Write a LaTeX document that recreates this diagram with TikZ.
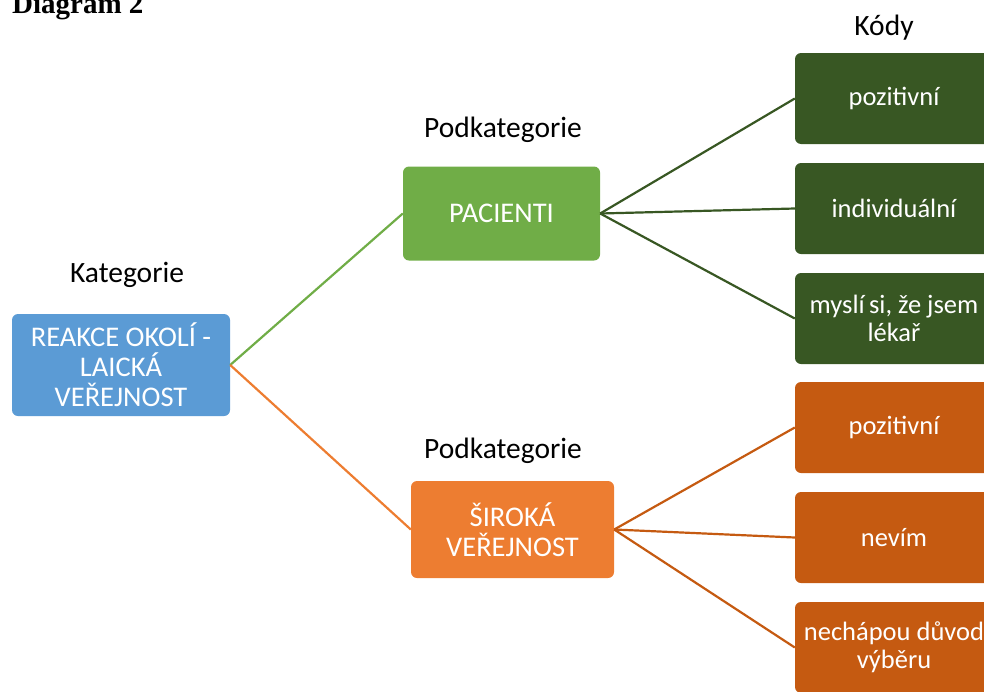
\documentclass[tikz,border=0pt]{standalone}
\usepackage{fontspec}
\setmainfont{Carlito}
\newfontfamily\titlefont{Liberation Serif}
\definecolor{catblue}{HTML}{5B9BD5}
\definecolor{subgreen}{HTML}{70AD47}
\definecolor{suborange}{HTML}{ED7D31}
\definecolor{codegreen}{HTML}{385723}
\definecolor{codeorange}{HTML}{C55A11}
\begin{document}
\begin{tikzpicture}[x=1pt,y=-1pt,
  box/.style={rounded corners=6pt, inner sep=0pt, align=center, text=white,
    font=\fontsize{28.5}{30}\selectfont},
  catbox/.style={box, fill=catblue, minimum width=218pt, minimum height=102pt},
  subbox/.style={box, minimum height=94pt},
  codebox/.style={box, minimum width=198pt, minimum height=91pt,
    font=\fontsize{26.5}{28}\selectfont},
  heading/.style={anchor=base, inner sep=0pt, font=\fontsize{29.5}{32}\selectfont},
  link/.style={line width=2.2pt}]
\useasboundingbox (0,0) rectangle (984,691);
\clip (0,0) rectangle (984,691);

% title
\node[anchor=base west, inner sep=0pt, font=\titlefont\bfseries\fontsize{29}{32}\selectfont]
  (title) at (12,13) {Diagram 2};

% headings
\node[heading] (hcat) at (127,282) {Kategorie};
\node[heading] (hsub1) at (503,137) {Podkategorie};
\node[heading] (hsub2) at (503,458) {Podkategorie};
\node[heading] (hcode) at (884,35) {Kódy};

% category
\node[catbox] (cat) at (121,365) {REAKCE OKOLÍ -\\LAICKÁ\\VEŘEJNOST};

% subcategories
\node[subbox, fill=subgreen, minimum width=197pt] (pac) at (501.5,213.5) {PACIENTI};
\node[subbox, fill=suborange, minimum width=203pt, minimum height=97pt] (sir) at (512.5,529.5) {ŠIROKÁ\\VEŘEJNOST};

% codes
\node[codebox, fill=codegreen] (g1) at (894,98.5) {pozitivní};
\node[codebox, fill=codegreen] (g2) at (894,208.5) {individuální};
\node[codebox, fill=codegreen] (g3) at (894,318.5) {myslí\,si, že jsem\\lékař};
\node[codebox, fill=codeorange] (o1) at (894,427.5) {pozitivní};
\node[codebox, fill=codeorange] (o2) at (894,537.5) {nevím};
\node[codebox, fill=codeorange] (o3) at (894,647.5) {nechápou důvod\\výběru};

% connectors
\draw[link, subgreen] (cat.east) -- (pac.west);
\draw[link, suborange] (cat.east) -- (sir.west);
\foreach \c in {g1,g2,g3} \draw[link, codegreen] (pac.east) -- (\c.west);
\foreach \c in {o1,o2,o3} \draw[link, codeorange] (sir.east) -- (\c.west);
\end{tikzpicture}
\end{document}
